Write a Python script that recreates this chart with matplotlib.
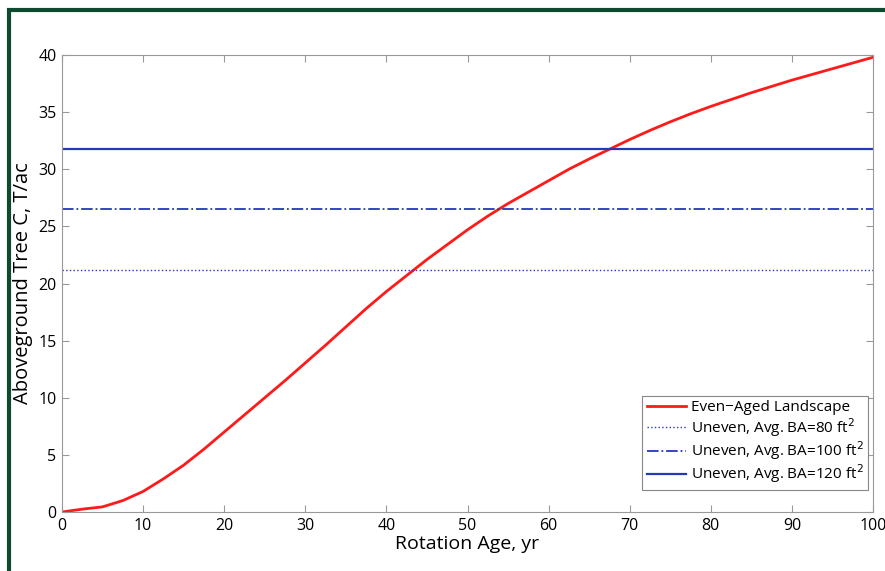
import matplotlib.pyplot as plt
from matplotlib.patches import Rectangle

plt.rcParams['font.family'] = ['Open Sans', 'DejaVu Sans']

# data
rotation_age = [0, 2.5, 5, 7.5, 10, 12.5, 15, 17.5, 20, 22.5, 25, 27.5, 30, 32.5, 35, 37.5,
                40, 42.5, 45, 47.5, 50, 52.5, 55, 57.5, 60, 62.5, 65, 67.5, 70, 72.5, 75,
                77.5, 80, 82.5, 85, 87.5, 90, 92.5, 95, 97.5, 100]
even_aged_c = [0.0, 0.25, 0.45, 1.0, 1.8, 2.9, 4.1, 5.5, 7.0, 8.5, 10.0, 11.5, 13.05, 14.6,
               16.2, 17.8, 19.3, 20.7, 22.1, 23.4, 24.7, 25.9, 27.0, 28.0, 29.0, 30.0, 30.9,
               31.75, 32.6, 33.4, 34.15, 34.85, 35.5, 36.1, 36.7, 37.25, 37.8, 38.3, 38.8, 39.3, 39.8]
uneven_labels = ['Uneven, Avg. BA=80 ft$^2$', 'Uneven, Avg. BA=100 ft$^2$', 'Uneven, Avg. BA=120 ft$^2$']
uneven_c = [21.15, 26.5, 31.75]

fig = plt.figure(figsize=(8.85, 5.71), dpi=100)
ax = fig.add_axes([62 / 885, 1 - 512 / 571, 811 / 885, 457 / 571])

ax.plot(rotation_age, even_aged_c, color='#ff1a1a', lw=2, label='Even\u2212Aged Landscape')
styles = [(':', 1.0), ('-.', 1.3), ('-', 1.6)]
for lab, val, (ls, lw) in zip(uneven_labels, uneven_c, styles):
    ax.axhline(val, color='#2438b8', ls=ls, lw=lw, label=lab)

ax.set_xlim(0, 100)
ax.set_ylim(0, 40)
ax.set_xticks(range(0, 101, 10))
ax.set_yticks(range(0, 41, 5))
ax.tick_params(direction='in', top=True, right=True, length=5, color='#999999',
               labelsize=11.5, pad=4)
for s in ax.spines.values():
    s.set_color('#999999')
ax.set_xlabel('Rotation Age, yr', fontsize=14, labelpad=1)
ax.set_ylabel('Aboveground Tree C, T/ac', fontsize=14.5, labelpad=4)

leg = ax.legend(loc='lower right', bbox_to_anchor=(0.994, 0.048), fontsize=11,
                fancybox=False, framealpha=1, edgecolor='#888888', handlelength=2.6,
                borderpad=0.3, labelspacing=0.05, handletextpad=0.3, borderaxespad=0)
leg.get_frame().set_linewidth(0.8)

# dark green frame (right and bottom sides lie outside the image)
fig.patches.append(Rectangle((9 / 885, -0.05), 1.1, 1 - 10 / 571 + 0.05, transform=fig.transFigure,
                             fill=False, edgecolor='#0e4a30', lw=3))

fig.savefig('out.png', dpi=100)
